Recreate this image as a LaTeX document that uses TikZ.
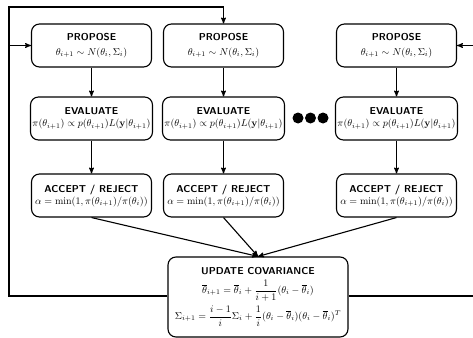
\documentclass[tikz,border=0pt]{standalone}
\usepackage{amsmath}
\usetikzlibrary{arrows}

\tikzset{
  stage/.style={draw,line width=1.1pt,rounded corners=8pt,align=center,
    minimum width=120pt,minimum height=43pt,inner sep=2pt,fill=white},
  flow/.style={->,>=stealth',line width=1.1pt},
  back/.style={line width=1.1pt}
}
\newcommand{\stagehead}[1]{{\sffamily\bfseries #1}}

\begin{document}
\begin{tikzpicture}[x=1pt,y=-1pt]
\useasboundingbox (0,0) rectangle (473,337);

% the three chains
\node[stage] (prop1) at (91.5,45.5)  {\stagehead{PROPOSE}\\[3pt] $\theta_{i+1}\sim N(\theta_i,\Sigma_i)$};
\node[stage] (prop2) at (223.5,45.5) {\stagehead{PROPOSE}\\[3pt] $\theta_{i+1}\sim N(\theta_i,\Sigma_i)$};
\node[stage] (prop3) at (396.5,45.5) {\stagehead{PROPOSE}\\[3pt] $\theta_{i+1}\sim N(\theta_i,\Sigma_i)$};

\node[stage] (eval1) at (91.5,118.5)  {\stagehead{EVALUATE}\\ $\pi(\theta_{i+1})\propto p(\theta_{i+1})L(\mathbf{y}|\theta_{i+1})$};
\node[stage] (eval2) at (223.5,118.5) {\stagehead{EVALUATE}\\ $\pi(\theta_{i+1})\propto p(\theta_{i+1})L(\mathbf{y}|\theta_{i+1})$};
\node[stage] (eval3) at (396.5,118.5) {\stagehead{EVALUATE}\\ $\pi(\theta_{i+1})\propto p(\theta_{i+1})L(\mathbf{y}|\theta_{i+1})$};

\node[stage] (acc1) at (91.5,195.5)  {\stagehead{ACCEPT / REJECT}\\ $\alpha=\min(1,\pi(\theta_{i+1})/\pi(\theta_i))$};
\node[stage] (acc2) at (223.5,195.5) {\stagehead{ACCEPT / REJECT}\\ $\alpha=\min(1,\pi(\theta_{i+1})/\pi(\theta_i))$};
\node[stage] (acc3) at (396.5,195.5) {\stagehead{ACCEPT / REJECT}\\ $\alpha=\min(1,\pi(\theta_{i+1})/\pi(\theta_i))$};

% covariance update
\node[stage,minimum width=180pt,minimum height=80pt] (upd) at (258,297)
  {\stagehead{UPDATE COVARIANCE}\\[4pt]
   $\overline{\theta}_{i+1}=\overline{\theta}_i+\dfrac{1}{i+1}(\theta_i-\overline{\theta}_i)$\\[4pt]
   $\Sigma_{i+1}=\dfrac{i-1}{i}\Sigma_i+\dfrac{1}{i}(\theta_i-\overline{\theta}_i)(\theta_i-\overline{\theta}_i)^T$};

% dots between chains
\foreach \dx in {298,310.5,323}
  \fill (\dx,118) circle (5.5pt);

\foreach \c in {1,2,3}{
  \draw[flow] (prop\c) -- (eval\c);
  \draw[flow] (eval\c) -- (acc\c);
  \draw[flow] (acc\c.south) -- (upd.north);
}

% feedback
\coordinate (tl) at (9,7);
\coordinate (bl) at (9,296);
\coordinate (br) at (485,296);
\coordinate (tr) at (485,45.5);
\draw[back] (upd.west |- bl) -- (bl) -- (tl) -| (prop2.north);
\draw[flow] (prop2.north |- tl) -- (prop2.north);
\draw[flow] (tl |- prop1.west) -- (prop1.west);
\draw[back] (upd.east |- br) -- (br) -- (tr);
\draw[flow] (tr) -- (prop3.east);

\end{tikzpicture}
\end{document}
